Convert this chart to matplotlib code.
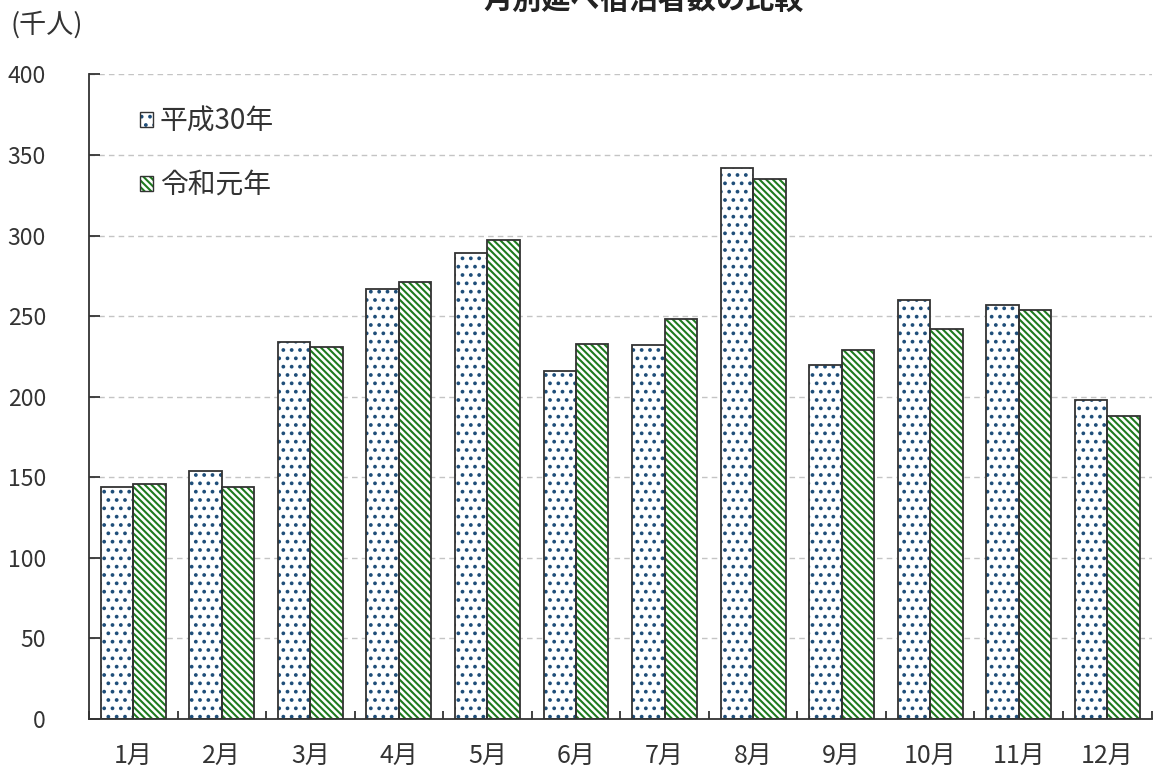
import matplotlib.pyplot as plt
import numpy as np
from matplotlib.patches import Patch
from matplotlib.legend_handler import HandlerTuple

plt.rcParams['font.family'] = ['Noto Sans CJK JP', 'DejaVu Sans']
plt.rcParams['hatch.linewidth'] = 1.5

months = ['1月', '2月', '3月', '4月', '5月', '6月', '7月', '8月', '9月', '10月', '11月', '12月']
h30 = [144, 154, 234, 267, 289, 216, 232, 342, 220, 260, 257, 198]
r1 = [146, 144, 231, 271, 297, 233, 248, 335, 229, 242, 254, 188]
series_names = ['平成30年', '令和元年']

text_col = '#333333'
edge_col = '#333333'
blue = '#1f4e79'
green = '#1e7a1e'
dots = '..'
stripes = '\\' * 5

fig = plt.figure(figsize=(11.62, 7.8), dpi=100)
ax = fig.add_axes([0.0766, 0.0782, 0.9144, 0.8263])

x = np.arange(len(months))
w = 0.367

# hatch layer first (edge colour = hatch colour), then a plain outline on top
ax.bar(x - w / 2, h30, w, color='white', edgecolor=blue, hatch=dots, linewidth=0, zorder=2)
ax.bar(x - w / 2, h30, w, fill=False, edgecolor=edge_col, linewidth=1.3, zorder=3)
ax.bar(x + w / 2, r1, w, color='white', edgecolor=green, hatch=stripes, linewidth=0, zorder=2)
ax.bar(x + w / 2, r1, w, fill=False, edgecolor=edge_col, linewidth=1.3, zorder=3)

ax.set_xlim(-0.5, len(months) - 0.5)
ax.set_ylim(0, 400)
ax.set_yticks(np.arange(0, 401, 50))
ax.set_xticks(x)
ax.set_xticklabels(months)
ax.set_xticks(np.arange(-0.5, len(months), 1), minor=True)

ax.grid(axis='y', color='#c4c4c4', linestyle=(0, (4, 3)), linewidth=1, zorder=0)
ax.set_axisbelow(True)

for s in ['top', 'right']:
    ax.spines[s].set_visible(False)
for s in ['left', 'bottom']:
    ax.spines[s].set_color(edge_col)
    ax.spines[s].set_linewidth(1.3)

ax.tick_params(axis='y', direction='in', length=8, width=1.3, color=edge_col,
               labelsize=16.5, labelcolor=text_col, pad=31)
ax.tick_params(axis='x', which='major', length=0, labelsize=18, labelcolor=text_col, pad=17)
ax.tick_params(axis='x', which='minor', direction='in', length=6, width=1.3, color=edge_col)

h1 = (Patch(facecolor='white', edgecolor=blue, hatch=dots, linewidth=0),
      Patch(fill=False, edgecolor=edge_col, linewidth=1.0))
h2 = (Patch(facecolor='white', edgecolor=green, hatch=stripes, linewidth=0),
      Patch(fill=False, edgecolor=edge_col, linewidth=1.0))
ax.legend([h1, h2], series_names, handler_map={tuple: HandlerTuple(ndivide=1)},
          loc='upper left', bbox_to_anchor=(0.048, 0.95), frameon=False,
          fontsize=20, labelcolor=text_col, handlelength=0.47, handleheight=0.47,
          handletextpad=0.25, labelspacing=1.2, borderpad=0, borderaxespad=0)

fig.text(0.554, 1.0, '月別延べ宿泊者数の比較', ha='center', va='center',
         fontsize=21, fontweight='bold', color='#222222')
fig.text(0.009, 1 - 25 / 780, '(千人)', ha='left', va='center', fontsize=19.5, color=text_col)

fig.savefig('out.png', dpi=100)
